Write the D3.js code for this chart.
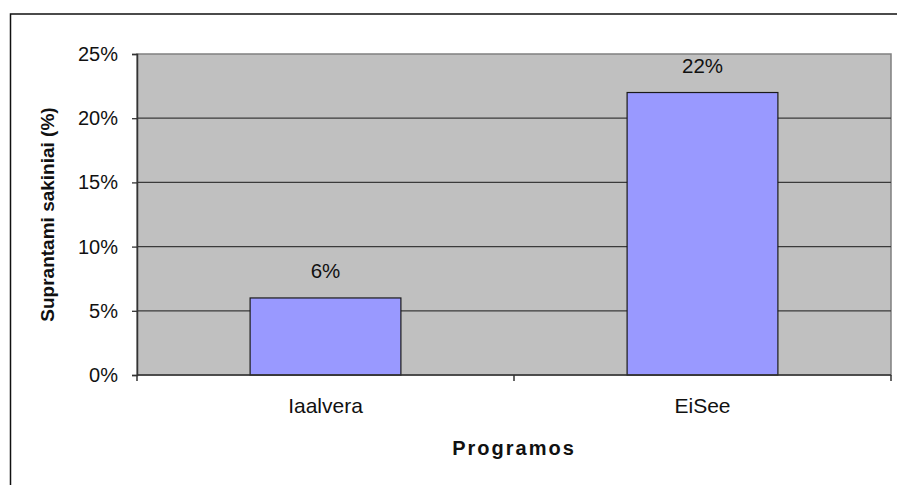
<!DOCTYPE html>
<html>
<head>
<meta charset="utf-8">
<script src="https://cdn.jsdelivr.net/npm/d3@7"></script>
<style>
  html, body { margin: 0; padding: 0; background: #fff; }
  svg { display: block; font-family: Arial, "Liberation Sans", sans-serif; }
</style>
</head>
<body>
<svg id="chart" width="898" height="485"></svg>
<script>
// Programs and the share of understandable sentences each produced
const categories = ["Iaalvera", "EiSee"];
const values = [0.06, 0.22];
const valueLabels = ["6%", "22%"];
const yTicks = [0, 0.05, 0.10, 0.15, 0.20, 0.25];
const yTickLabels = ["0%", "5%", "10%", "15%", "20%", "25%"];
const xTitle = "Programos";
const yTitle = "Suprantami sakiniai (%)";

const svg = d3.select("#chart");
const plot = { left: 137, top: 54, right: 891, bottom: 375 };

// Outer chart frame (top and left edges)
svg.append("path")
  .attr("d", "M10.5,485 L10.5,14 L897,14")
  .attr("fill", "none")
  .attr("stroke", "#111")
  .attr("stroke-width", 1.5);

const x = d3.scaleBand()
  .domain(categories)
  .range([plot.left, plot.right])
  .paddingInner(0.6)
  .paddingOuter(0.3);

const y = d3.scaleLinear()
  .domain([0, 0.25])
  .range([plot.bottom, plot.top]);

// Plot background
svg.append("rect")
  .attr("x", plot.left).attr("y", plot.top)
  .attr("width", plot.right - plot.left)
  .attr("height", plot.bottom - plot.top)
  .attr("fill", "#c0c0c0")
  .attr("stroke", "#808080")
  .attr("stroke-width", 1.5);

// Horizontal gridlines
svg.append("g")
  .selectAll("line")
  .data(yTicks.filter(t => t > 0 && t < 0.25))
  .join("line")
  .attr("x1", plot.left).attr("x2", plot.right)
  .attr("y1", d => y(d)).attr("y2", d => y(d))
  .attr("stroke", "#3a3a3a")
  .attr("stroke-width", 1.3);

// Bars
svg.append("g")
  .selectAll("rect")
  .data(values)
  .join("rect")
  .attr("x", (d, i) => x(categories[i]))
  .attr("y", d => y(d))
  .attr("width", x.bandwidth())
  .attr("height", d => y(0) - y(d))
  .attr("fill", "#9999ff")
  .attr("stroke", "#1a1a1a")
  .attr("stroke-width", 1.2);

// Value labels above bars
svg.append("g")
  .selectAll("text")
  .data(values)
  .join("text")
  .attr("x", (d, i) => x(categories[i]) + x.bandwidth() / 2)
  .attr("y", d => y(d) - 20)
  .attr("text-anchor", "middle")
  .attr("font-size", 20.5)
  .attr("fill", "#111")
  .text((d, i) => valueLabels[i]);

// Y axis
const yAxis = d3.axisLeft(y)
  .tickValues(yTicks)
  .tickFormat((d, i) => yTickLabels[i])
  .tickSize(5)
  .tickPadding(14);
const gy = svg.append("g")
  .attr("transform", `translate(${plot.left},0)`)
  .call(yAxis);
gy.select(".domain").attr("stroke", "#333").attr("stroke-width", 1.5);
gy.selectAll(".tick line").attr("stroke", "#333").attr("stroke-width", 1.3);
gy.selectAll(".tick text")
  .attr("font-size", 20)
  .attr("font-family", "Arial, 'Liberation Sans', sans-serif")
  .attr("fill", "#111");

// X axis: tick marks on category boundaries, labels at category centers
const gx = svg.append("g")
  .attr("transform", `translate(0,${plot.bottom})`);
gx.append("line")
  .attr("x1", plot.left).attr("x2", plot.right)
  .attr("stroke", "#333").attr("stroke-width", 1.5);
const step = (plot.right - plot.left) / categories.length;
gx.selectAll("line.tick")
  .data(d3.range(categories.length + 1))
  .join("line")
  .attr("class", "tick")
  .attr("x1", i => plot.left + i * step)
  .attr("x2", i => plot.left + i * step)
  .attr("y1", 0).attr("y2", 6)
  .attr("stroke", "#333").attr("stroke-width", 1.5);
gx.selectAll("text")
  .data(categories)
  .join("text")
  .attr("x", d => x(d) + x.bandwidth() / 2)
  .attr("y", 38)
  .attr("text-anchor", "middle")
  .attr("font-size", 21)
  .attr("fill", "#111")
  .text(d => d);

// Axis titles
svg.append("text")
  .attr("x", (plot.left + plot.right) / 2)
  .attr("y", 455)
  .attr("text-anchor", "middle")
  .attr("font-size", 20)
  .attr("font-weight", "bold")
  .attr("letter-spacing", 2)
  .attr("fill", "#111")
  .text(xTitle);

svg.append("text")
  .attr("transform", `translate(54,${(plot.top + plot.bottom) / 2}) rotate(-90)`)
  .attr("text-anchor", "middle")
  .attr("font-size", 19)
  .attr("font-weight", "bold")
  .attr("fill", "#111")
  .text(yTitle);
</script>
</body>
</html>
